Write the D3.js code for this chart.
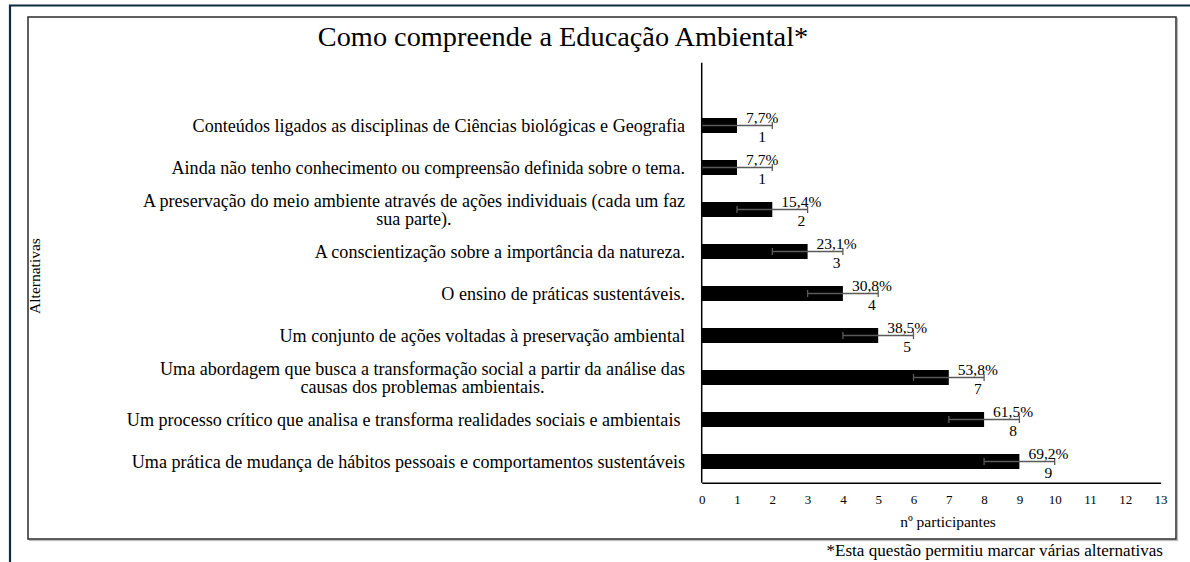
<!DOCTYPE html>
<html>
<head>
<meta charset="utf-8">
<script src="https://cdn.jsdelivr.net/npm/d3@7"></script>
<style>
  body { margin: 0; background: #fff; }
</style>
</head>
<body>
<script>
// categories, top to bottom (each entry = lines of the label)
let categories = [
    ['Conteúdos ligados as disciplinas de Ciências biológicas e Geografia'],
    ['Ainda não tenho conhecimento ou compreensão definida sobre o tema.'],
    ['A preservação do meio ambiente através de ações individuais (cada um faz', 'sua parte).'],
    ['A conscientização sobre a importância da natureza.'],
    ['O ensino de práticas sustentáveis.'],
    ['Um conjunto de ações voltadas à preservação ambiental'],
    ['Uma abordagem que busca a transformação social a partir da análise das', 'causas dos problemas ambientais.'],
    ['Um processo crítico que analisa e transforma realidades sociais e ambientais\u00a0'],
    ['Uma prática de mudança de hábitos pessoais e comportamentos sustentáveis']
];
let counts = [1, 1, 2, 3, 4, 5, 7, 8, 9];
let percents = ['7,7%', '7,7%', '15,4%', '23,1%', '30,8%', '38,5%', '53,8%', '61,5%', '69,2%'];
let errors = [1, 1, 1, 1, 1, 1, 1, 1, 1];
let xTicks = [0, 1, 2, 3, 4, 5, 6, 7, 8, 9, 10, 11, 12, 13];

let width = 1190;
let height = 562;
let serif = "'Liberation Serif', 'Times New Roman', serif";

let keys = categories.map((d, i) => i);

let x = d3.scaleLinear()
    .domain([0, 13])
    .range([701.7, 1160.6]);

let y = d3.scaleBand()
    .domain(keys)
    .range([104.5, 482.5])
    .paddingInner(0.643)
    .paddingOuter(0.3215);

let svg = d3.select('body')
    .append('svg')
    .attr('width', width)
    .attr('height', height);

function label(sel, size) {
    return sel.style('font-family', serif)
        .style('font-size', size + 'px')
        .attr('fill', '#000');
}

// outer frame (top + left only)
svg.append('path')
    .attr('d', 'M10,562 L10,5.5 L1190,5.5')
    .attr('fill', 'none')
    .attr('stroke', '#0f2b40')
    .attr('stroke-width', 2.2);

// chart area box with a faint shadow
svg.append('rect')
    .attr('x', 29.5).attr('y', 18.5)
    .attr('width', 1148).attr('height', 522)
    .attr('fill', 'none')
    .attr('stroke', '#bbb')
    .attr('stroke-width', 1.2);
svg.append('rect')
    .attr('x', 28).attr('y', 17)
    .attr('width', 1148).attr('height', 522)
    .attr('fill', '#fff')
    .attr('stroke', '#2b2b2b')
    .attr('stroke-width', 1.5);

svg.append('text')
    .attr('x', 563)
    .attr('y', 46)
    .attr('text-anchor', 'middle')
    .call(label, 28.3)
    .text('Como compreende a Educação Ambiental*');

// bars
svg.selectAll('rect.bar')
    .data(counts)
    .enter()
        .append('rect')
        .attr('class', 'bar')
        .attr('x', x(0))
        .attr('y', (d, i) => y(i))
        .attr('width', d => x(d) - x(0))
        .attr('height', y.bandwidth())
        .attr('fill', '#000');

// error bars
let eb = svg.selectAll('g.err')
    .data(counts)
    .enter()
        .append('g')
        .attr('class', 'err')
        .attr('stroke', '#5a5a5a')
        .attr('stroke-width', 1.3);

eb.append('line')
    .attr('x1', (d, i) => x(d - errors[i]))
    .attr('x2', (d, i) => x(d + errors[i]))
    .attr('y1', (d, i) => y(i) + y.bandwidth() / 2)
    .attr('y2', (d, i) => y(i) + y.bandwidth() / 2);
eb.append('line')
    .attr('x1', (d, i) => x(d - errors[i]))
    .attr('x2', (d, i) => x(d - errors[i]))
    .attr('y1', (d, i) => y(i) + y.bandwidth() / 2 - 3.5)
    .attr('y2', (d, i) => y(i) + y.bandwidth() / 2 + 3.5);
eb.append('line')
    .attr('x1', (d, i) => x(d + errors[i]))
    .attr('x2', (d, i) => x(d + errors[i]))
    .attr('y1', (d, i) => y(i) + y.bandwidth() / 2 - 3.5)
    .attr('y2', (d, i) => y(i) + y.bandwidth() / 2 + 3.5);

// data labels: percent above, count below
counts.forEach((d, i) => {
    let cy = y(i) + y.bandwidth() / 2;
    let pct = svg.append('text')
        .attr('y', cy - 2.5)
        .attr('text-anchor', 'middle')
        .call(label, 15.5)
        .text(percents[i]);
    let w = pct.node().getComputedTextLength();
    let cx = x(d) + 9 + w / 2;
    pct.attr('x', cx);
    svg.append('text')
        .attr('x', cx)
        .attr('y', cy + 16.5)
        .attr('text-anchor', 'middle')
        .call(label, 15.5)
        .text(d);
});

// vertical axis line
svg.append('line')
    .attr('x1', x(0)).attr('x2', x(0))
    .attr('y1', 62.7).attr('y2', 482.7)
    .attr('stroke', '#000')
    .attr('stroke-width', 1.5);

// category labels: lines centred together, block right-aligned
categories.forEach((lines, i) => {
    let cy = y(i) + y.bandwidth() / 2;
    let lh = 18;
    let t = svg.append('text')
        .attr('text-anchor', 'middle')
        .call(label, 18.1);
    lines.forEach((l, j) => {
        t.append('tspan')
            .attr('x', 0)
            .attr('y', cy + 6 + (j - (lines.length - 1) / 2) * lh)
            .text(l);
    });
    let w = t.node().getBBox().width;
    t.selectAll('tspan').attr('x', 685 - w / 2);
});

// x axis
let axis = d3.axisBottom(x)
    .tickValues(xTicks)
    .tickSize(0)
    .tickSizeOuter(0)
    .tickPadding(12);

let gx = svg.append('g')
    .attr('transform', 'translate(0, 482.7)')
    .call(axis);
gx.select('.domain').attr('stroke', '#000').attr('stroke-width', 1.5);
gx.selectAll('text').call(label, 13);

svg.append('text')
    .attr('x', 948)
    .attr('y', 527)
    .attr('text-anchor', 'middle')
    .call(label, 15.5)
    .text('nº participantes');

svg.append('text')
    .attr('transform', 'translate(40, 276) rotate(-90)')
    .attr('text-anchor', 'middle')
    .call(label, 15.5)
    .text('Alternativas');

svg.append('text')
    .attr('x', 1163)
    .attr('y', 556)
    .attr('text-anchor', 'end')
    .call(label, 17.1)
    .text('*Esta questão permitiu marcar várias alternativas');
</script>
</body>
</html>
